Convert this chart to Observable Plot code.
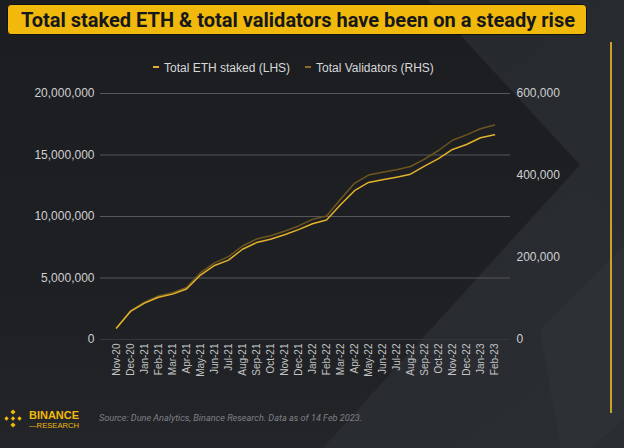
<!DOCTYPE html>
<html><head><meta charset="utf-8">
<script src="https://cdn.jsdelivr.net/npm/d3@7"></script>
<script src="https://cdn.jsdelivr.net/npm/@observablehq/plot@0.6"></script>
<style>
html,body{margin:0;padding:0;background:#1e2025;}
#wrap{position:relative;width:624px;height:448px;overflow:hidden;background:#2a2d33;font-family:"Liberation Sans",Arial,sans-serif;}
#bg,#chart,#over{position:absolute;left:0;top:0;}
#titlebox{position:absolute;left:7px;top:4px;width:578px;height:29px;background:#f0b90b;border:1px solid #111;border-radius:4px;overflow:hidden;}
#title{position:absolute;left:13px;top:3px;white-space:nowrap;font-family:Roboto,"Liberation Sans",sans-serif;font-weight:700;font-size:21px;line-height:24px;color:#16171a;transform-origin:0 0;}
</style>
</head><body>
<div id="wrap">
<svg id="bg" width="624" height="448" viewBox="0 0 624 448">
  <defs>
    <linearGradient id="g0" x1="0" y1="0" x2="0" y2="1">
      <stop offset="0" stop-color="#1b1d21"/>
      <stop offset="0.7" stop-color="#1e2024"/>
      <stop offset="1" stop-color="#232529"/>
    </linearGradient>
    <linearGradient id="g1" x1="0" y1="0" x2="1" y2="1">
      <stop offset="0" stop-color="#24272c"/>
      <stop offset="1" stop-color="#2a2d32"/>
    </linearGradient>
  </defs>
  <rect width="624" height="448" fill="url(#g1)"/>
  <polygon points="540,330 624,246 624,420 590,448 560,448" fill="#2d3035"/>
  <polygon points="580,165 624,121 624,246" fill="#282b30"/>
  <polygon points="0,0 428,0 580,165 323,448 0,448" fill="url(#g0)"/>
</svg>
<div id="chart"></div>
<svg id="over" width="624" height="448" viewBox="0 0 624 448"></svg>
<div id="titlebox"><div id="title"></div></div>
</div>
<script>
const months = ["Nov-20","Dec-20","Jan-21","Feb-21","Mar-21","Apr-21","May-21","Jun-21","Jul-21","Aug-21","Sep-21","Oct-21","Nov-21","Dec-21","Jan-22","Feb-22","Mar-22","Apr-22","May-22","Jun-22","Jul-22","Aug-22","Sep-22","Oct-22","Nov-22","Dec-22","Jan-23","Feb-23"];
const ethStaked = [940000,2280000,2960000,3440000,3690000,4110000,5240000,6020000,6450000,7340000,7880000,8150000,8520000,8930000,9410000,9720000,10950000,12100000,12770000,12980000,13200000,13440000,14100000,14700000,15450000,15850000,16400000,16640000];
const validators = [27600,70000,91000,106000,114000,127000,163000,187000,202000,228000,245000,253000,264000,277000,293000,301000,342000,381000,401000,408000,414000,422000,440000,461000,486000,499000,514000,523000];
const leftTicks = [0,5000000,10000000,15000000,20000000];
const rightTicks = [0,200000,400000,600000];
const titleText = "Total staked ETH & total validators have been on a steady rise";
const legendLabels = ["Total ETH staked (LHS)","Total Validators (RHS)"];
const sourceText = "Source: Dune Analytics, Binance Research. Data as of 14 Feb 2023.";

const ethColor = "#e3b22a";
const valColor = "#6e561e";
const k = leftTicks[leftTicks.length-1] / rightTicks[rightTicks.length-1];
const rows = months.map((m,i)=>({month:m, eth:ethStaked[i], val:validators[i]*k}));
const fmt = d3.format(",");

const chart = Plot.plot({
  width:624, height:448,
  marginLeft:100, marginRight:114, marginTop:93, marginBottom:109,
  x:{type:"point", domain:months, padding:0.5, label:null},
  y:{domain:[0,20000000], label:null},
  style:{background:"transparent", color:"#d0d0d0", fontFamily:"Liberation Sans, Arial, sans-serif", overflow:"visible"},
  marks:[
    Plot.ruleY(leftTicks.slice(1), {stroke:"#55575c", strokeWidth:1}),
    Plot.ruleY([0], {stroke:"#35373c", strokeWidth:1}),
    Plot.lineY(rows, {x:"month", y:"val", stroke:valColor, strokeWidth:1.5}),
    Plot.lineY(rows, {x:"month", y:"eth", stroke:ethColor, strokeWidth:1.5}),
    Plot.axisY({anchor:"left", ticks:leftTicks, tickSize:0, tickPadding:6, tickFormat:fmt, fontSize:12, label:null}),
    Plot.axisY({anchor:"right", ticks:rightTicks.map(v=>v*k), tickSize:0, tickPadding:6, tickFormat:d=>fmt(Math.round(d/k)), fontSize:12, label:null}),
    Plot.axisX({tickRotate:-90, tickSize:0, tickPadding:4, fontSize:10, label:null, fill:"#c4c4c4"})
  ]
});
document.getElementById("chart").appendChild(chart);

// title (HTML, scaled horizontally to fit the box)
const t = document.getElementById("title");
t.textContent = titleText;
const w = t.getBoundingClientRect().width;
t.style.transform = `scaleX(${554 / w})`;

const ov = d3.select("#over");

// legend
const lg = [{x:153, c:ethColor, t:legendLabels[0]},{x:305, c:"#8a6c22", t:legendLabels[1]}];
lg.forEach(l=>{
  ov.append("line").attr("x1",l.x).attr("x2",l.x+6).attr("y1",67).attr("y2",67).attr("stroke",l.c).attr("stroke-width",2);
  ov.append("text").attr("x",l.x+11).attr("y",71.5).attr("font-size",12).attr("fill","#d8d8d8")
    .attr("font-family","Liberation Sans, Arial, sans-serif").text(l.t);
});

// right vertical accent line
ov.append("line").attr("x1",611).attr("x2",611).attr("y1",42).attr("y2",413).attr("stroke","#c9a227").attr("stroke-width",2);

// logo
const lc = "#f0b90b";
const g = ov.append("g").attr("transform","translate(13,418.5)");
const dia = (cx,cy,r)=>`${cx},${cy-r} ${cx+r},${cy} ${cx},${cy+r} ${cx-r},${cy}`;
g.append("polygon").attr("points",dia(0,0,2.2)).attr("fill",lc);
g.append("polygon").attr("points",dia(0,-6.5,2.6)).attr("fill",lc);
g.append("polygon").attr("points",dia(0,6.5,2.6)).attr("fill",lc);
g.append("polygon").attr("points",dia(-6.5,0,2.2)).attr("fill",lc);
g.append("polygon").attr("points",dia(6.5,0,2.2)).attr("fill",lc);
ov.append("text").attr("x",29).attr("y",418.5).attr("font-size",10.5).attr("font-weight",700).attr("fill",lc)
  .attr("textLength",50).attr("lengthAdjust","spacingAndGlyphs")
  .attr("font-family","Liberation Sans, Arial, sans-serif").text("BINANCE");
ov.append("text").attr("x",29).attr("y",428).attr("font-size",7).attr("fill",lc)
  .attr("textLength",50).attr("lengthAdjust","spacingAndGlyphs")
  .attr("font-family","Liberation Sans, Arial, sans-serif").text("—RESEARCH");
ov.append("text").attr("x",99).attr("y",421).attr("font-size",9).attr("font-style","italic").attr("fill","#7e8186")
  .attr("textLength",263).attr("lengthAdjust","spacingAndGlyphs")
  .attr("font-family","Roboto, 'Liberation Sans', sans-serif").text(sourceText);
</script>
</body></html>
